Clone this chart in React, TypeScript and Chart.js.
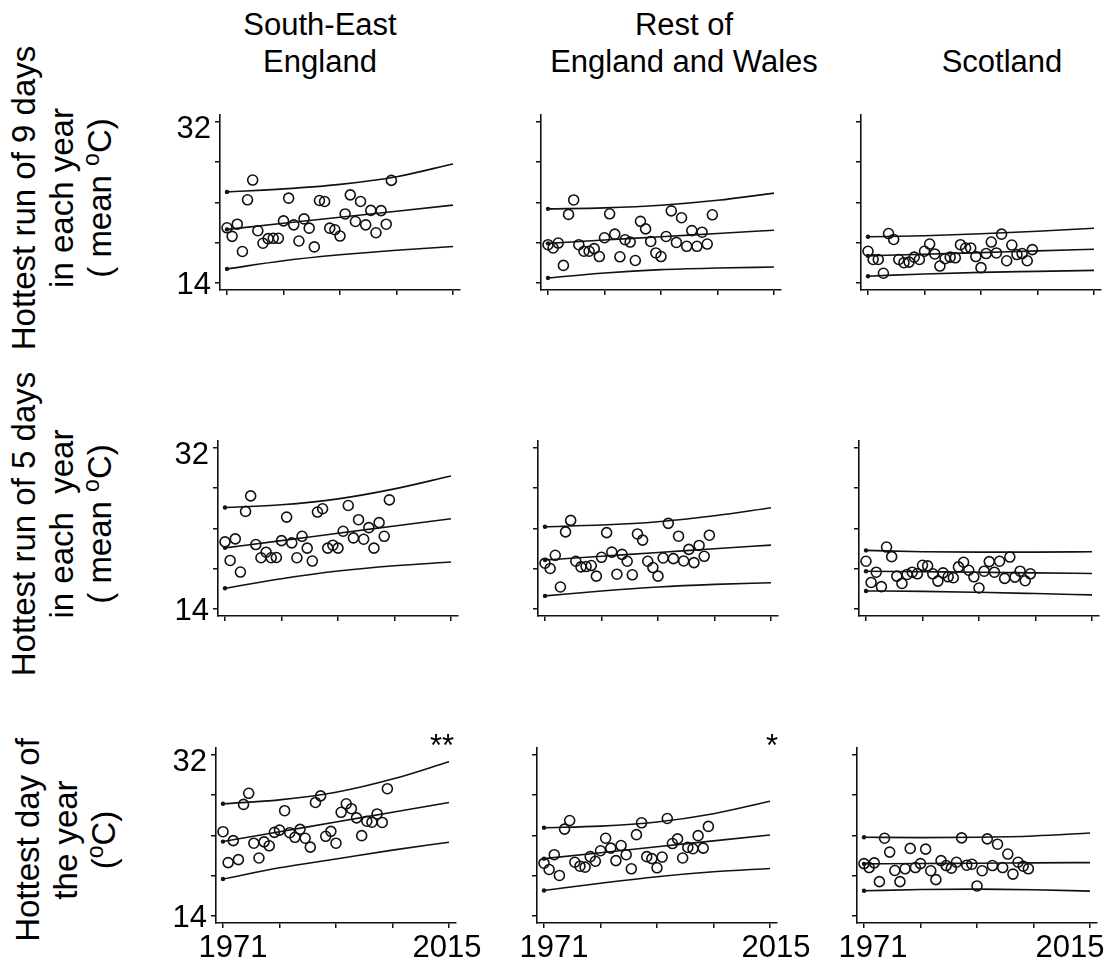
import React, { useEffect, useRef } from "react";
import { Chart, registerables } from "chart.js";

Chart.register(...registerables);

// ---------------- data ----------------
const YEARS = [1971, 1972, 1973, 1974, 1975, 1976, 1977, 1978, 1979, 1980, 1981, 1982, 1983, 1984, 1985, 1986, 1987, 1988, 1989, 1990, 1991, 1992, 1993, 1994, 1995, 1996, 1997, 1998, 1999, 2000, 2001, 2002, 2003];
const CURVE_YEARS = [1971, 1982, 1993, 2004, 2015];
const X_TICKS = [1971, 1982, 1993, 2004, 2015];
const Y_TICKS = [14, 18.5, 23, 27.5, 32];
const X_LABELS = ["1971", "2015"];
const Y_LABELS = ["14", "32"];

const COLUMN_TITLES = [["South-East", "England"], ["Rest of", "England and Wales"], ["\u00a0", "Scotland"]];
const ROW_TITLES = [
  ["Hottest run of 9 days", "in each year", ["( mean ", "o", "C)"]],
  ["Hottest run of 5 days", "in each  year", ["( mean ", "o", "C)"]],
  ["Hottest day of", "the year", ["(", "o", "C)"]],
];
const SIGNIFICANCE = [["", "", ""], ["", "", ""], ["**", "*", ""]];

// Row 1: hottest run of 9 days
const SE_RUN9 = [20.16, 19.21, 20.56, 17.52, 23.28, 25.48, 19.83, 18.44, 18.95, 18.99, 18.99, 20.93, 23.46, 20.49, 18.69, 21.15, 20.12, 18.03, 23.2, 23.09, 20.12, 19.94, 19.24, 21.7, 23.83, 20.86, 23.09, 20.49, 22.1, 19.61, 22.07, 20.56, 25.44];
const SE_RUN9_HI = [24.16, 24.49, 25.0, 25.85, 27.27];
const SE_RUN9_MID = [19.98, 20.66, 21.33, 22.01, 22.69];
const SE_RUN9_LO = [15.58, 16.49, 17.15, 17.66, 18.07];

const EW_RUN9 = [18.28, 17.91, 18.46, 15.97, 21.65, 23.26, 18.28, 17.55, 17.55, 17.84, 16.96, 19.05, 21.72, 19.45, 16.93, 18.83, 18.57, 16.52, 20.88, 20.04, 18.64, 17.36, 16.96, 19.19, 22.05, 18.53, 21.28, 18.1, 19.85, 18.1, 19.67, 18.35, 21.61];
const EW_RUN9_HI = [22.27, 22.38, 22.67, 23.22, 24.02];
const EW_RUN9_MID = [18.43, 18.8, 19.16, 19.53, 19.89];
const EW_RUN9_LO = [14.58, 15.13, 15.5, 15.68, 15.79];

const SC_RUN9 = [17.55, 16.63, 16.63, 15.1, 19.52, 18.86, 16.63, 16.27, 16.34, 16.89, 16.63, 17.55, 18.35, 17.25, 15.9, 16.71, 16.89, 16.82, 18.28, 17.91, 17.91, 16.96, 15.72, 17.29, 18.57, 17.36, 19.45, 16.49, 18.24, 17.18, 17.29, 16.49, 17.73];
const SC_RUN9_HI = [19.16, 19.27, 19.49, 19.78, 20.11];
const SC_RUN9_MID = [17.03, 17.22, 17.4, 17.59, 17.77];
const SC_RUN9_LO = [14.77, 15.02, 15.2, 15.31, 15.42];

// Row 2: hottest run of 5 days
const SE_RUN5 = [21.49, 19.42, 21.82, 18.13, 24.88, 26.61, 21.19, 19.72, 20.34, 19.72, 19.75, 21.63, 24.25, 21.38, 19.72, 22.11, 20.79, 19.35, 24.81, 25.18, 20.79, 21.12, 20.79, 22.67, 25.54, 21.93, 23.96, 21.78, 23.07, 20.79, 23.63, 22.11, 26.17];
const SE_RUN5_HI = [25.32, 25.62, 26.28, 27.39, 28.83];
const SE_RUN5_MID = [20.82, 21.63, 22.45, 23.26, 24.07];
const SE_RUN5_LO = [16.32, 17.39, 18.24, 18.83, 19.24];

const EW_RUN5 = [19.11, 18.52, 19.99, 16.46, 22.6, 23.88, 19.33, 18.7, 18.74, 18.85, 17.67, 19.77, 22.52, 20.35, 17.89, 20.1, 19.33, 17.82, 22.37, 21.68, 19.33, 18.63, 17.67, 19.69, 23.55, 19.62, 22.12, 19.36, 20.65, 19.18, 21.09, 19.88, 22.23];
const EW_RUN5_HI = [23.18, 23.36, 23.73, 24.39, 25.28];
const EW_RUN5_MID = [19.47, 19.89, 20.3, 20.72, 21.13];
const EW_RUN5_LO = [15.47, 16.02, 16.46, 16.75, 16.94];

const SC_RUN5 = [19.33, 16.97, 18.11, 16.5, 20.91, 19.84, 17.67, 16.86, 17.86, 18.11, 17.93, 18.88, 18.81, 17.93, 17.12, 18.04, 17.6, 17.49, 18.7, 19.22, 18.33, 17.6, 16.35, 18.22, 19.29, 18.11, 19.33, 17.42, 19.8, 17.56, 18.22, 17.16, 17.93];
const SC_RUN5_HI = [20.54, 20.39, 20.35, 20.35, 20.39];
const SC_RUN5_MID = [18.22, 18.16, 18.1, 18.03, 17.97];
const SC_RUN5_LO = [16.02, 15.98, 15.87, 15.73, 15.58];

// Row 3: hottest day of the year
const SE_DAY = [23.4, 19.96, 22.41, 20.29, 26.44, 27.68, 22.12, 20.47, 22.27, 21.83, 23.33, 23.58, 25.74, 23.29, 22.78, 23.66, 22.67, 21.68, 26.66, 27.39, 22.89, 23.44, 22.12, 25.56, 26.51, 25.96, 24.94, 22.96, 24.57, 24.46, 25.38, 24.43, 28.19];
const SE_DAY_HI = [26.51, 26.95, 27.79, 29.26, 31.2];
const SE_DAY_MID = [22.3, 23.39, 24.48, 25.57, 26.66];
const SE_DAY_LO = [18.13, 19.38, 20.36, 21.35, 22.23];

const EW_DAY = [19.89, 19.19, 20.84, 18.53, 23.69, 24.65, 20.0, 19.56, 19.45, 20.62, 20.11, 21.28, 22.67, 21.57, 20.18, 21.86, 20.84, 19.27, 23.07, 24.39, 20.62, 20.4, 19.38, 20.58, 24.87, 22.08, 22.6, 20.47, 21.65, 21.5, 22.96, 21.57, 23.99];
const EW_DAY_HI = [23.84, 24.02, 24.49, 25.41, 26.8];
const EW_DAY_MID = [20.4, 21.06, 21.72, 22.38, 23.04];
const EW_DAY_LO = [16.85, 17.66, 18.39, 18.94, 19.3];

const SC_DAY = [19.85, 19.41, 19.93, 17.84, 22.67, 21.13, 19.08, 17.84, 19.27, 21.54, 19.41, 19.85, 21.46, 19.05, 18.06, 20.18, 19.63, 19.34, 20.0, 22.71, 19.67, 19.78, 17.36, 19.05, 22.6, 19.63, 22.01, 19.41, 20.91, 18.68, 20.0, 19.56, 19.27];
const SC_DAY_HI = [22.78, 22.74, 22.78, 22.93, 23.26];
const SC_DAY_MID = [19.82, 19.86, 19.89, 19.93, 19.96];
const SC_DAY_LO = [16.82, 16.96, 17.0, 16.93, 16.78];

const PANELS = [
  [
    { pts: SE_RUN9, hi: SE_RUN9_HI, mid: SE_RUN9_MID, lo: SE_RUN9_LO },
    { pts: EW_RUN9, hi: EW_RUN9_HI, mid: EW_RUN9_MID, lo: EW_RUN9_LO },
    { pts: SC_RUN9, hi: SC_RUN9_HI, mid: SC_RUN9_MID, lo: SC_RUN9_LO },
  ],
  [
    { pts: SE_RUN5, hi: SE_RUN5_HI, mid: SE_RUN5_MID, lo: SE_RUN5_LO },
    { pts: EW_RUN5, hi: EW_RUN5_HI, mid: EW_RUN5_MID, lo: EW_RUN5_LO },
    { pts: SC_RUN5, hi: SC_RUN5_HI, mid: SC_RUN5_MID, lo: SC_RUN5_LO },
  ],
  [
    { pts: SE_DAY, hi: SE_DAY_HI, mid: SE_DAY_MID, lo: SE_DAY_LO },
    { pts: EW_DAY, hi: EW_DAY_HI, mid: EW_DAY_MID, lo: EW_DAY_LO },
    { pts: SC_DAY, hi: SC_DAY_HI, mid: SC_DAY_MID, lo: SC_DAY_LO },
  ],
];

// ---------------- layout / style ----------------
const INK = "#111";
const FONT = "'Liberation Sans', Arial, Helvetica, sans-serif";
const FS = 31;
const ROW_FS = 33;
const AREA_W = 240;
const AREA_H = 178;
const X_MIN = 1969.637;
const X_MAX = 2016.363;
const Y_MIN = 13.232;
const Y_MAX = 32.768;
const PAD_L = 70;
const PAD_T = 20;
const PAD_R = 45;
const PAD_B = 50;
const CW = PAD_L + AREA_W + PAD_R;
const CH = PAD_T + AREA_H + PAD_B;
const ROW_TOP = [112, 438, 745];
const COL_LEFT = [
  [220, 541, 861],
  [218, 538, 859],
  [216, 537, 857],
];
const X_NUDGE = [
  { "1971": [10, 0], "2015": [-2, 0] },
  { "1971": [10, 0], "2015": [6, 0] },
  { "1971": [9, 0], "2015": [-20, 0] },
];
const Y_NUDGE = { "32": [0, 8], "14": [0, 2] };
const TITLE_CX = [320, 684, 1002];
const ROW_LABEL_CX = [62, 62, 66];
const ROW_LABEL_CY = [198, 524, 840];
const STAR_POS = [
  [null, null, null],
  [null, null, null],
  [[430, 727], [766, 727], null],
];

const labelNudge = {
  id: "labelNudge",
  beforeDraw(chart: any, _args: any, opts: any) {
    (["x", "y"] as const).forEach((axis) => {
      const scale = chart.scales[axis];
      const shifts = opts && opts[axis];
      if (!scale || !shifts || !scale.getLabelItems) return;
      const items = scale.getLabelItems();
      items.forEach((it: any) => {
        if (it._nudged) return;
        const d = shifts[String(it.label)];
        if (d) {
          it.options.translation[0] += d[0];
          it.options.translation[1] += d[1];
        }
        it._nudged = true;
      });
    });
  },
};

function curveDataset(values: number[]) {
  return {
    type: "line" as const,
    data: CURVE_YEARS.map((x, i) => ({ x, y: values[i] })),
    borderColor: INK,
    borderWidth: 1.6,
    fill: false,
    cubicInterpolationMode: "monotone" as const,
    pointRadius: (ctx: any) => (ctx.dataIndex === 0 ? 2.2 : 0),
    pointBackgroundColor: INK,
    pointBorderWidth: 0,
    pointHoverRadius: 0,
  };
}

function Panel({ row, col }: { row: number; col: number }) {
  const ref = useRef<HTMLCanvasElement>(null);
  const p = PANELS[row][col];
  useEffect(() => {
    if (!ref.current) return;
    const chart = new Chart(ref.current, {
      type: "scatter",
      data: {
        datasets: [
          {
            type: "scatter",
            data: YEARS.map((x, i) => ({ x, y: p.pts[i] })),
            pointStyle: "circle",
            pointRadius: 5,
            pointBorderWidth: 1.6,
            borderColor: INK,
            backgroundColor: "rgba(0,0,0,0)",
            pointBackgroundColor: "rgba(0,0,0,0)",
            pointBorderColor: INK,
          } as any,
          curveDataset(p.hi) as any,
          curveDataset(p.mid) as any,
          curveDataset(p.lo) as any,
        ],
      },
      options: {
        responsive: false,
        animation: false,
        devicePixelRatio: 1,
        events: [],
        layout: { padding: { left: 0, top: PAD_T, right: PAD_R, bottom: 0 } },
        plugins: {
          legend: { display: false },
          tooltip: { enabled: false },
          title: { display: false },
          labelNudge: { x: X_NUDGE[col], y: Y_NUDGE },
        } as any,
        scales: {
          x: {
            type: "linear",
            min: X_MIN,
            max: X_MAX,
            afterBuildTicks: (s: any) => {
              s.ticks = X_TICKS.map((value) => ({ value }));
            },
            afterFit: (s: any) => {
              s.height = PAD_B;
            },
            grid: { display: true, drawOnChartArea: false, drawTicks: true, tickLength: 5, color: INK, lineWidth: 1.5 },
            border: { display: true, color: INK, width: 1.6 },
            ticks: {
              autoSkip: false,
              maxRotation: 0,
              padding: 2,
              color: "#000",
              font: { family: FONT, size: FS },
              callback: (v: any) => (row === 2 && X_LABELS.includes(String(v)) ? String(v) : ""),
            },
          },
          y: {
            type: "linear",
            min: Y_MIN,
            max: Y_MAX,
            afterBuildTicks: (s: any) => {
              s.ticks = Y_TICKS.map((value) => ({ value }));
            },
            afterFit: (s: any) => {
              s.width = PAD_L;
            },
            grid: { display: true, drawOnChartArea: false, drawTicks: true, tickLength: 5, color: INK, lineWidth: 1.5 },
            border: { display: true, color: INK, width: 1.6 },
            ticks: {
              autoSkip: false,
              padding: 4,
              color: "#000",
              font: { family: FONT, size: FS },
              callback: (v: any) => (col === 0 && Y_LABELS.includes(String(v)) ? String(v) : ""),
            },
          },
        },
      },
      plugins: [labelNudge as any],
    });
    return () => chart.destroy();
  }, [row, col]);
  return (
    <canvas
      ref={ref}
      width={CW}
      height={CH}
      style={{
        position: "absolute",
        left: COL_LEFT[row][col] - PAD_L,
        top: ROW_TOP[row] - PAD_T,
        width: CW,
        height: CH,
      }}
    />
  );
}

function LabelLine({ line }: { line: any }) {
  if (Array.isArray(line)) {
    return (
      <div>
        {line[0]}
        <span style={{ fontSize: "0.7em", position: "relative", top: "-0.5em" }}>{line[1]}</span>
        {line[2]}
      </div>
    );
  }
  return <div>{line}</div>;
}

export default function App() {
  const cells: any[] = [];
  for (let r = 0; r < 3; r++) for (let c = 0; c < 3; c++) cells.push(<Panel key={`${r}-${c}`} row={r} col={c} />);
  return (
    <div
      style={{
        position: "fixed",
        left: 0,
        top: 0,
        width: 1119,
        height: 965,
        overflow: "hidden",
        background: "#fff",
        fontFamily: FONT,
        color: "#000",
        fontSize: FS,
      }}
    >
      {COLUMN_TITLES.map((lines, c) => (
        <div
          key={`t${c}`}
          style={{
            position: "absolute",
            left: TITLE_CX[c] - 200,
            top: 6,
            width: 400,
            textAlign: "center",
            lineHeight: "37px",
            whiteSpace: "pre",
          }}
        >
          {lines.map((l, i) => (
            <div key={i}>{l}</div>
          ))}
        </div>
      ))}
      {ROW_TITLES.map((lines, r) => (
        <div
          key={`r${r}`}
          style={{
            position: "absolute",
            left: ROW_LABEL_CX[r] - 200,
            top: ROW_LABEL_CY[r] - 57,
            width: 400,
            height: 114,
            transform: "rotate(-90deg)",
            transformOrigin: "50% 50%",
            textAlign: "center",
            lineHeight: "38px",
            fontSize: ROW_FS,
            whiteSpace: "pre",
          }}
        >
          {lines.map((l, i) => (
            <LabelLine key={i} line={l} />
          ))}
        </div>
      ))}
      {cells}
      {SIGNIFICANCE.map((rowS, r) =>
        rowS.map((s, c) =>
          s && STAR_POS[r][c] ? (
            <div
              key={`s${r}${c}`}
              style={{ position: "absolute", left: STAR_POS[r][c]![0], top: STAR_POS[r][c]![1], lineHeight: "38px" }}
            >
              {s}
            </div>
          ) : null
        )
      )}
    </div>
  );
}
